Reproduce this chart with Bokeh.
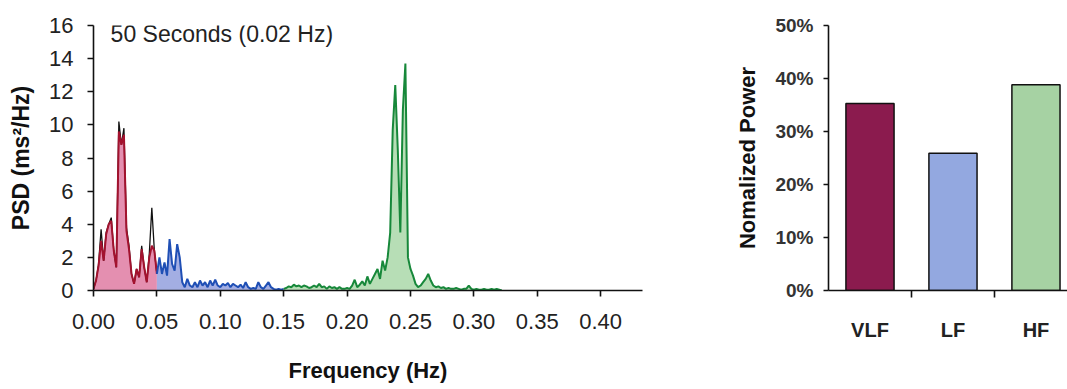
from bokeh.plotting import figure
from bokeh.layouts import row
from bokeh.models import Range1d, FixedTicker, Label, NumeralTickFormatter
from bokeh.embed import file_html
from bokeh.resources import INLINE

# ---------------- data ----------------
FREQ_STEP = 0.002
vlf_start, lf_start, hf_start = 0.0, 0.05, 0.15

vlf_psd = [0.1, 0.6, 1.5, 3.0, 1.8, 3.4, 4.0, 4.2, 2.4, 1.4, 9.6, 8.8, 9.4,
           3.6, 2.5, 1.0, 0.4, 1.3, 0.8, 2.5, 1.4, 0.5, 2.0, 2.7, 2.4, 1.0]
vlf_psd_outline = [0.1, 0.6, 1.6, 3.7, 1.8, 3.5, 4.0, 4.4, 2.4, 1.4, 10.2, 8.8, 9.8,
                   3.8, 2.7, 1.0, 0.4, 1.3, 0.8, 2.7, 1.4, 0.5, 2.2, 5.0, 2.4, 1.0]
lf_psd = [1.0, 2.0, 1.0, 1.7, 0.9, 3.1, 1.6, 1.2, 2.8, 2.0,
          0.5, 0.2, 0.7, 0.3, 0.2, 0.5, 0.2, 0.6, 0.3, 0.5,
          0.2, 0.6, 0.3, 0.65, 0.3, 0.2, 0.4, 0.3, 0.45, 0.2,
          0.4, 0.3, 0.2, 0.35, 0.15, 0.5, 0.2, 0.1, 0.15, 0.1,
          0.5, 0.2, 0.1, 0.3, 0.5, 0.2, 0.1, 0.05, 0.1, 0.05, 0.1]
hf_psd = [0.1, 0.15, 0.25, 0.2, 0.35, 0.25, 0.3, 0.2, 0.3, 0.25,
          0.15, 0.2, 0.3, 0.2, 0.4, 0.2, 0.25, 0.1, 0.25, 0.15,
          0.2, 0.1, 0.2, 0.1, 0.1, 0.15, 0.1, 0.3, 0.65, 0.2,
          0.35, 0.55, 0.3, 0.85, 0.4, 0.7, 1.0, 1.3, 0.7, 1.8,
          1.2, 2.0, 3.5, 9.7, 12.4, 8.5, 3.5, 10.9, 13.7, 2.0,
          1.3, 0.9, 0.4, 0.2, 0.3, 0.5, 0.7, 1.0, 0.6, 0.3,
          0.2, 0.25, 0.15, 0.2, 0.1, 0.15, 0.1, 0.1, 0.15, 0.1,
          0.05, 0.1, 0.1, 0.3, 0.1, 0.05, 0.1, 0.05, 0.05, 0.1,
          0.05, 0.05, 0.1, 0.05, 0.1, 0.05, 0.0]

x_ticks = [0.00, 0.05, 0.10, 0.15, 0.20, 0.25, 0.30, 0.35, 0.40]
y_ticks = [0, 2, 4, 6, 8, 10, 12, 14, 16]

categories = ["VLF", "LF", "HF"]
normalized_power = [0.353, 0.259, 0.388]
pct_ticks = [0.0, 0.1, 0.2, 0.3, 0.4, 0.5]


def freqs(start, n):
    return [round(start + FREQ_STEP * i, 4) for i in range(n)]


vlf_f = freqs(vlf_start, len(vlf_psd))
lf_f = freqs(lf_start, len(lf_psd))
hf_f = freqs(hf_start, len(hf_psd))

NARROW = "'Liberation Sans Narrow', 'Liberation Sans', sans-serif"
SANS = "'Liberation Sans', Arial, sans-serif"

# ---------------- left: PSD spectrum ----------------
p1 = figure(width=700, height=389, output_backend="svg", toolbar_location=None,
            x_range=Range1d(0, 0.433), y_range=Range1d(0, 16),
            min_border_left=93, min_border_right=58, min_border_top=25,
            min_border_bottom=99)
p1.outline_line_color = None
p1.xgrid.grid_line_color = None
p1.ygrid.grid_line_color = None
p1.background_fill_color = "white"

# bands
p1.varea(x=vlf_f, y1=0, y2=vlf_psd, fill_color="#E48FB0", fill_alpha=1.0)
p1.line(vlf_f, vlf_psd_outline, line_color="#111111", line_width=1.3)
p1.line(vlf_f, vlf_psd, line_color="#A3122E", line_width=2.0)

p1.varea(x=lf_f, y1=0, y2=lf_psd, fill_color="#A3AEE3", fill_alpha=1.0)
p1.line(lf_f, lf_psd, line_color="#1F4FB5", line_width=2.0)

p1.varea(x=hf_f, y1=0, y2=hf_psd, fill_color="#B7DEB6", fill_alpha=1.0)
p1.line(hf_f, hf_psd, line_color="#17883A", line_width=2.0)

for ax in (p1.xaxis[0], p1.yaxis[0]):
    ax.axis_line_color = "#111111"
    ax.axis_line_width = 1.6
    ax.major_tick_line_color = "#111111"
    ax.major_tick_line_width = 1.6
    ax.major_tick_in = 0
    ax.major_tick_out = 6
    ax.minor_tick_line_color = None
    ax.major_label_text_font = NARROW
    ax.major_label_text_font_size = "22px"
    ax.major_label_text_color = "#222222"
    ax.axis_label_text_font = SANS
    ax.axis_label_text_font_style = "bold"
    ax.axis_label_text_font_size = "22px"
    ax.axis_label_text_color = "#111111"

p1.xaxis.ticker = FixedTicker(ticks=x_ticks)
p1.xaxis.formatter = NumeralTickFormatter(format="0.00")
p1.xaxis.major_label_standoff = 17
p1.xaxis.axis_label = "Frequency (Hz)"
p1.xaxis.axis_label_standoff = 26

p1.yaxis.ticker = FixedTicker(ticks=y_ticks)
p1.yaxis.major_label_standoff = 14
p1.yaxis.axis_label = "PSD (ms\u00b2/Hz)"
p1.yaxis.axis_label_text_font_size = "23px"
p1.yaxis.axis_label_standoff = 12

p1.add_layout(Label(x=0.0135, y=16.3, text="50 Seconds (0.02 Hz)",
                    text_font=SANS, text_font_size="23px",
                    text_color="#222222", text_baseline="top"))

# ---------------- right: normalized power bars ----------------
p2 = figure(width=367, height=389, output_backend="svg", toolbar_location=None,
            x_range=Range1d(0, 2.88), y_range=Range1d(0, 0.5),
            min_border_left=128, min_border_right=0, min_border_top=13,
            min_border_bottom=95)
p2.outline_line_color = None
p2.xgrid.grid_line_color = None
p2.ygrid.grid_line_color = None

bar_x = [i + 0.5 for i in range(len(categories))]
p2.vbar(x=bar_x, top=normalized_power, width=0.58,
        fill_color=["#8B1B4E", "#93A8E0", "#A6D2A3"],
        line_color="#111111", line_width=1.5)

for ax in (p2.xaxis[0], p2.yaxis[0]):
    ax.axis_line_color = "#111111"
    ax.axis_line_width = 1.6
    ax.major_tick_line_color = "#111111"
    ax.major_tick_line_width = 1.6
    ax.major_label_text_font = SANS
    ax.major_label_text_font_style = "bold"
    ax.major_label_text_color = "#333333"
    ax.axis_label_text_font = SANS
    ax.axis_label_text_font_style = "bold"
    ax.axis_label_text_font_size = "22px"
    ax.axis_label_text_color = "#111111"

p2.yaxis.ticker = FixedTicker(ticks=pct_ticks)
p2.yaxis.formatter = NumeralTickFormatter(format="0%")
p2.yaxis.major_tick_in = 0
p2.yaxis.major_tick_out = 5
p2.yaxis.minor_tick_line_color = None
p2.yaxis.major_label_text_font_size = "19px"
p2.yaxis.major_label_standoff = 10
p2.yaxis.axis_label = "Nomalized Power"
p2.yaxis.axis_label_standoff = 12

p2.xaxis.ticker = FixedTicker(ticks=bar_x, minor_ticks=[1, 2])
p2.xaxis.major_label_overrides = {x: c for x, c in zip(bar_x, categories)}
p2.xaxis.major_tick_in = 0
p2.xaxis.major_tick_out = 0
p2.xaxis.minor_tick_in = 0
p2.xaxis.minor_tick_out = 7
p2.xaxis.minor_tick_line_color = "#111111"
p2.xaxis.minor_tick_line_width = 1.6
p2.xaxis.major_label_text_font_size = "20px"
p2.xaxis.major_label_text_color = "#222222"
p2.xaxis.major_label_standoff = 21

layout = row(p1, p2)
open("out.html", "w").write(file_html(layout, INLINE))
